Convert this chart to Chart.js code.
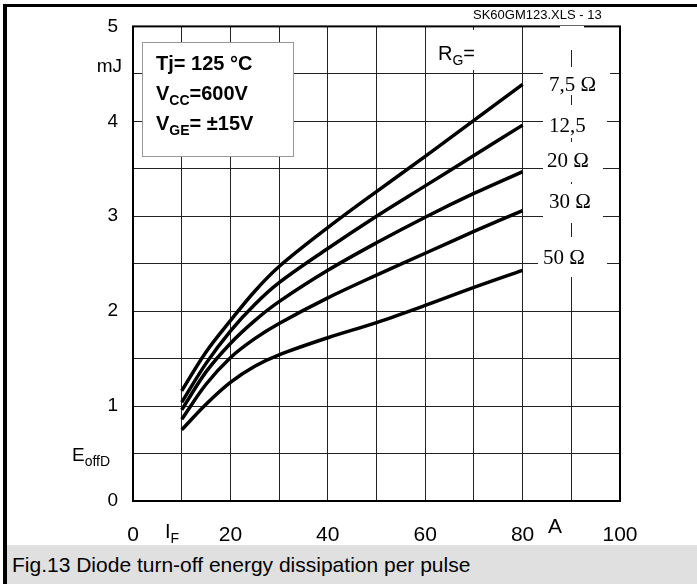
<!DOCTYPE html>
<html lang="en">
<head>
  <meta charset="UTF-8" />
  <title>Fig.13 Diode turn-off energy</title>
  <script src="https://cdn.jsdelivr.net/npm/chart.js"></script>
  <style>
    body {
      margin: 0;
      background: #fff;
      font-family: 'Liberation Sans', Arial, sans-serif;
    }
    .page {
      position: relative;
      width: 697px;
      height: 584px;
      overflow: hidden;
    }
    .chart-box {
      position: absolute;
      left: 0;
      top: 0;
      width: 697px;
      height: 545px;
    }
    .bar-top {
      position: absolute;
      left: 3px;
      top: 4px;
      width: 694px;
      height: 3px;
      background: #000;
    }
    .bar-left {
      position: absolute;
      left: 3px;
      top: 4px;
      width: 4px;
      height: 580px;
      background: #000;
    }
    .caption {
      position: absolute;
      left: 7px;
      top: 545px;
      width: 690px;
      height: 39px;
      background: #e0e0e0;
      color: #000;
      font-size: 21px;
      line-height: 39px;
      padding-left: 5px;
      box-sizing: border-box;
    }
  </style>
</head>
<body>
  <div class="page">
    <div class="chart-box"><canvas id="chart"></canvas></div>
    <div class="bar-top"></div>
    <div class="bar-left"></div>
    <div class="caption">Fig.13 Diode turn-off energy dissipation per pulse</div>
  </div>
  <script>
    // forward current I_F in A
    const current = [10, 15, 20, 25, 30, 40, 50, 60, 70, 80];
    // E_offD in mJ for each gate resistor
    const rg7_5 = [1.16, 1.57, 1.90, 2.21, 2.47, 2.88, 3.26, 3.63, 4.01, 4.39];
    const rg12_5 = [1.04, 1.45, 1.79, 2.07, 2.30, 2.66, 3.00, 3.32, 3.64, 3.96];
    const rg20 = [0.96, 1.36, 1.66, 1.90, 2.10, 2.43, 2.72, 2.99, 3.24, 3.47];
    const rg30 = [0.86, 1.23, 1.51, 1.71, 1.87, 2.14, 2.38, 2.61, 2.84, 3.06];
    const rg50 = [0.75, 1.02, 1.25, 1.42, 1.54, 1.72, 1.88, 2.06, 2.25, 2.43];
    const seriesNames = ['7,5 Ω', '12,5', '20 Ω', '30 Ω', '50 Ω'];
    const xLabels = [0, 20, 40, 60, 80, 100];
    const yLabels = [0, 1, 2, 3, 4, 5];

    const SANS = "'Liberation Sans', Arial, sans-serif";
    const SERIF = "'Liberation Serif', 'Times New Roman', serif";

    function toPoints(values) {
      return values.map((v, i) => ({ x: current[i], y: v }));
    }

    function text(ctx, str, x, y, font, align) {
      ctx.font = font;
      ctx.textAlign = align || 'left';
      ctx.fillText(str, x, y);
      return ctx.measureText(str).width;
    }

    // main text + subscript + rest, left aligned at baseline y
    function subText(ctx, main, sub, rest, x, y, size, weight) {
      const w = weight || '';
      let cx = x;
      cx += text(ctx, main, cx, y, `${w} ${size}px ${SANS}`);
      cx += text(ctx, sub, cx, y + size * 0.25, `${w} ${Math.round(size * 0.72)}px ${SANS}`);
      if (rest) text(ctx, rest, cx, y, `${w} ${size}px ${SANS}`);
    }

    const decorations = {
      id: 'decorations',
      afterDraw(chart) {
        const ctx = chart.ctx;
        const a = chart.chartArea;
        ctx.save();

        // plot frame
        ctx.strokeStyle = '#000';
        ctx.lineWidth = 2;
        ctx.strokeRect(a.left, a.top, a.right - a.left, a.bottom - a.top);

        // white masks behind the labels
        ctx.fillStyle = '#fff';
        ctx.fillRect(436, 30, 46, 40);
        ctx.fillRect(560, 26, 24, 24);
        ctx.fillRect(543, 67, 67, 28);
        ctx.fillRect(543, 105, 64, 33);
        ctx.fillRect(543, 142, 60, 40);
        ctx.fillRect(543, 184, 60, 39);
        ctx.fillRect(538, 237, 69, 40);

        // info box
        ctx.fillRect(142, 42, 151, 114);
        ctx.strokeStyle = '#999';
        ctx.lineWidth = 1;
        ctx.strokeRect(142.5, 42.5, 151, 114);

        ctx.fillStyle = '#000';
        ctx.textBaseline = 'alphabetic';
        text(ctx, 'Tj= 125 °C', 156, 70, `bold 20px ${SANS}`);
        subText(ctx, 'V', 'CC', '=600V', 156, 100, 20, 'bold');
        subText(ctx, 'V', 'GE', '= ±15V', 156, 130, 20, 'bold');

        // file tag
        text(ctx, 'SK60GM123.XLS - 13', 473, 19, `13px ${SANS}`);

        // axis names
        text(ctx, 'mJ', 122, 72, `19px ${SANS}`, 'right');
        subText(ctx, 'E', 'offD', '', 72, 461, 19);
        subText(ctx, 'I', 'F', '', 165, 538, 20);
        text(ctx, 'A', 548, 533, `21px ${SANS}`);
        subText(ctx, 'R', 'G', '=', 438, 60, 20);

        // curve labels
        const labelY = [91, 132, 167, 208, 264];
        const labelX = [549, 549, 547, 549, 543];
        seriesNames.forEach((n, i) => {
          text(ctx, n, labelX[i], labelY[i], `21px ${SERIF}`);
        });

        ctx.restore();
      }
    };

    const lineStyle = {
      borderColor: '#000',
      borderWidth: 3.5,
      pointRadius: 0,
      fill: false,
      tension: 0.35
    };

    new Chart(document.getElementById('chart'), {
      type: 'line',
      data: {
        datasets: [rg7_5, rg12_5, rg20, rg30, rg50].map((vals, i) => ({
          label: seriesNames[i],
          data: toPoints(vals),
          ...lineStyle
        }))
      },
      options: {
        responsive: true,
        maintainAspectRatio: false,
        animation: false,
        layout: { padding: { left: 0, top: 25, right: 77, bottom: 0 } },
        plugins: {
          legend: { display: false },
          tooltip: { enabled: false }
        },
        scales: {
          x: {
            type: 'linear',
            min: 0,
            max: 100,
            afterFit(scale) { scale.height = 44; },
            ticks: {
              stepSize: 10,
              autoSkip: false,
              maxRotation: 0,
              padding: 22,
              color: '#000',
              font: { family: 'Liberation Sans', size: 21 },
              callback: v => xLabels.includes(v) ? String(v) : ''
            },
            grid: { color: '#222', lineWidth: 1, drawTicks: false },
            border: { display: false }
          },
          y: {
            min: 0,
            max: 5,
            afterFit(scale) { scale.width = 133; },
            ticks: {
              stepSize: 0.5,
              autoSkip: false,
              padding: 15,
              color: '#000',
              font: { family: 'Liberation Sans', size: 19 },
              callback: v => yLabels.includes(v) ? String(v) : ''
            },
            grid: { color: '#222', lineWidth: 1, drawTicks: false },
            border: { display: false }
          }
        }
      },
      plugins: [decorations]
    });
  </script>
</body>
</html>
